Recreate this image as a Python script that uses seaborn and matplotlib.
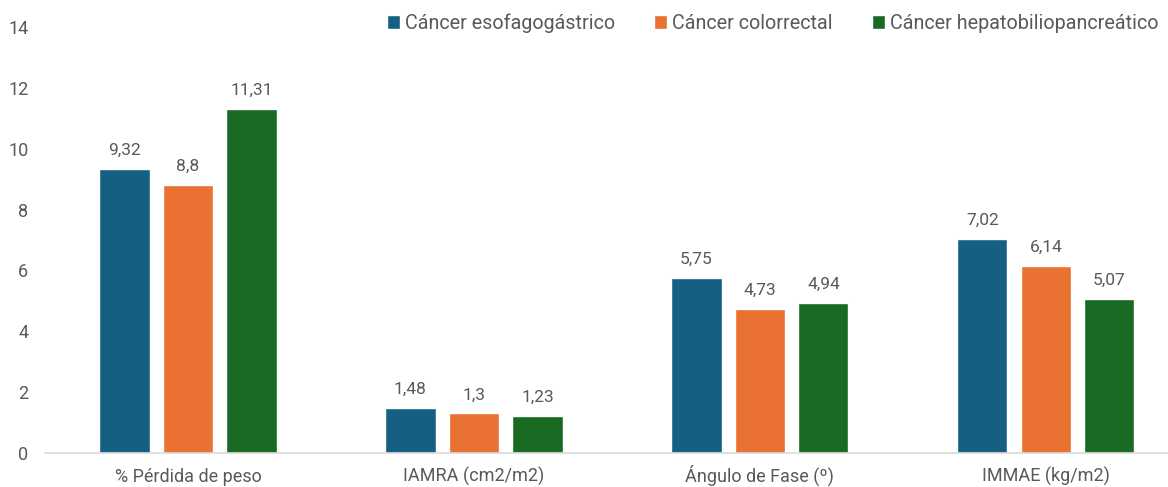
import pandas as pd
import seaborn as sns
import matplotlib.pyplot as plt

categorias = ['% Pérdida de peso', 'IAMRA (cm2/m2)', 'Ángulo de Fase (º)', 'IMMAE (kg/m2)']
grupos = ['Cáncer esofagogástrico', 'Cáncer colorrectal', 'Cáncer hepatobiliopancreático']
esofagogastrico = [9.32, 1.48, 5.75, 7.02]
colorrectal = [8.8, 1.3, 4.73, 6.14]
hepatobiliopancreatico = [11.31, 1.23, 4.94, 5.07]
colores = ['#156082', '#E97132', '#196B24']

df = pd.DataFrame({
    'categoria': categorias * 3,
    'grupo': [g for g in grupos for _ in categorias],
    'valor': esofagogastrico + colorrectal + hepatobiliopancreatico,
})

sns.set_style('white')
plt.rcParams['font.family'] = ['Roboto', 'DejaVu Sans']
gris = '#595959'

fig = plt.figure(figsize=(11.68, 4.87), dpi=100)
ax = fig.add_axes([45 / 1168, 34 / 487, 1123 / 1168, 426 / 487])

sns.barplot(data=df, x='categoria', y='valor', hue='grupo', palette=colores,
            width=0.666, gap=0.21, ax=ax, legend=True, saturation=1)

for cont in ax.containers:
    etiquetas = [f'{b.get_height():g}'.replace('.', ',') for b in cont]
    ax.bar_label(cont, labels=etiquetas, padding=8, fontsize=12.5, color=gris)

ax.set_ylim(0, 14)
ax.set_yticks(range(0, 15, 2))
ax.set_xlim(-0.5, 3.427)
ax.set_xlabel('')
ax.set_ylabel('')
ax.tick_params(axis='both', length=0, labelsize=13, labelcolor=gris)
ax.tick_params(axis='x', pad=21)
ax.tick_params(axis='y', pad=12)
for lab in ax.get_xticklabels():
    lab.set_verticalalignment('baseline')
for s in ['top', 'right', 'left']:
    ax.spines[s].set_visible(False)
ax.spines['bottom'].set_color('#d9d9d9')
ax.spines['bottom'].set_linewidth(1.2)

ax.legend(loc='upper right', bbox_to_anchor=(1.0, 1.055), ncol=3, frameon=False,
          fontsize=14.2, handlelength=0.65, handleheight=0.65, handletextpad=0.25,
          columnspacing=2.0, labelcolor=gris, borderaxespad=0.1)

fig.savefig('out.png', dpi=100)
